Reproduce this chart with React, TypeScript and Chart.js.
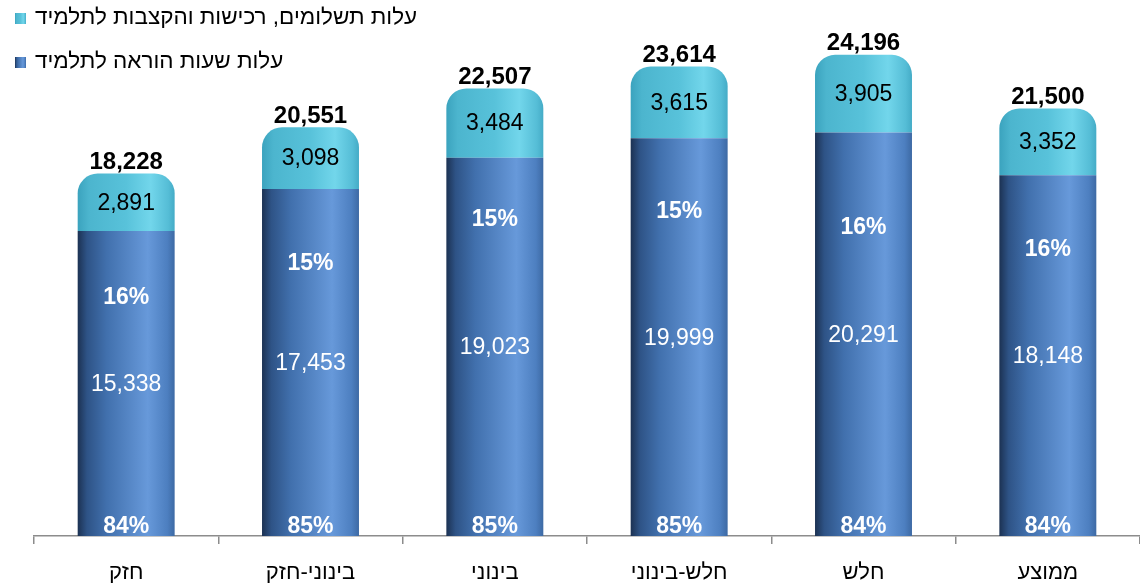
import React, { useEffect, useRef } from "react";
import { Chart, registerables } from "chart.js";

Chart.register(...registerables);

const categories = ["חזק", "בינוני-חזק", "בינוני", "חלש-בינוני", "חלש", "ממוצע"];
const teachingCost = [15338, 17453, 19023, 19999, 20291, 18148];
const paymentsCost = [2891, 3098, 3484, 3615, 3905, 3352];
const totals = [18228, 20551, 22507, 23614, 24196, 21500];
const teachingPct = ["84%", "85%", "85%", "85%", "84%", "84%"];
const paymentsPct = ["16%", "15%", "15%", "15%", "16%", "16%"];
// where Excel placed the upper % label (in data units)
const pctLabelAt = [12000, 13700, 15900, 16300, 15500, 14400];
const legendLabels = ["עלות תשלומים, רכישות והקצבות לתלמיד", "עלות שעות הוראה לתלמיד"];

const FONT = "'Liberation Sans', Arial, sans-serif";
const fmt = (v: number) => v.toLocaleString("en-US");

function barGradient(context: any, stops: [number, string][]) {
  const chart = context.chart;
  const xs = chart.scales?.x;
  if (!xs || !chart.chartArea) return stops[1][1];
  const cx = xs.getPixelForValue(context.dataIndex);
  const half = 49;
  const g = chart.ctx.createLinearGradient(cx - half, 0, cx + half, 0);
  stops.forEach(([o, c]) => g.addColorStop(o, c));
  return g;
}

const darkStops: [number, string][] = [
  [0, "#1b3050"],
  [0.1, "#2e5386"],
  [0.3, "#4170ad"],
  [0.72, "#6799da"],
  [0.92, "#4d7fc0"],
  [1, "#3c68a2"],
];
const cyanStops: [number, string][] = [
  [0, "#3aa2bd"],
  [0.12, "#4cb5ce"],
  [0.5, "#58c2da"],
  [0.75, "#72d6eb"],
  [0.93, "#55bdd6"],
  [1, "#43aac5"],
];

const labelsPlugin = {
  id: "labelsPlugin",
  afterDatasetsDraw(chart: any) {
    const ctx = chart.ctx;
    const m0 = chart.getDatasetMeta(0);
    const m1 = chart.getDatasetMeta(1);
    const ys = chart.scales.y;
    const base = ys.getPixelForValue(0);
    ctx.save();
    ctx.textAlign = "center";
    ctx.textBaseline = "middle";
    categories.forEach((_, i) => {
      const b0 = m0.data[i];
      const b1 = m1.data[i];
      const x = b0.x;
      ctx.fillStyle = "#000";
      ctx.font = `bold 24px ${FONT}`;
      ctx.fillText(fmt(totals[i]), x, b1.y - 11);
      ctx.font = `23px ${FONT}`;
      ctx.fillText(fmt(paymentsCost[i]), x, (b1.y + b1.base) / 2 + 1);
      ctx.fillStyle = "#fff";
      ctx.fillText(fmt(teachingCost[i]), x, (b0.y + b0.base) / 2 + 1);
      ctx.font = `bold 23px ${FONT}`;
      ctx.fillText(paymentsPct[i], x, ys.getPixelForValue(pctLabelAt[i]));
      ctx.fillText(teachingPct[i], x, base - 9);
    });
    ctx.restore();
  },
  afterDraw(chart: any) {
    const ctx = chart.ctx;
    ctx.save();
    const stopsList = [cyanStops, darkStops];
    legendLabels.forEach((t, i) => {
      const y = 18 + i * 44;
      const g = ctx.createLinearGradient(15, 0, 26, 0);
      stopsList[i].forEach(([o, c]) => g.addColorStop(o, c));
      ctx.fillStyle = g;
      ctx.fillRect(15, y - 5, 11, 11);
      ctx.fillStyle = "#000";
      ctx.font = `22.5px ${FONT}`;
      ctx.textBaseline = "middle";
      ctx.direction = "rtl";
      ctx.textAlign = "right";
      const w = ctx.measureText(t).width;
      ctx.fillText(t, 35 + w, y);
    });
    ctx.restore();
  },
};

export default function App() {
  const ref = useRef<HTMLCanvasElement | null>(null);
  useEffect(() => {
    if (!ref.current) return;
    const chart = new Chart(ref.current, {
      type: "bar",
      data: {
        labels: categories,
        datasets: [
          {
            label: legendLabels[1],
            data: teachingCost,
            backgroundColor: (c: any) => barGradient(c, darkStops),
            borderWidth: 0,
            borderRadius: 0,
          },
          {
            label: legendLabels[0],
            data: paymentsCost,
            backgroundColor: (c: any) => barGradient(c, cyanStops),
            borderWidth: 0,
            borderRadius: 20,
          },
        ],
      },
      options: {
        animation: false,
        responsive: false,
        maintainAspectRatio: false,
        layout: { padding: { left: 34, right: 0, top: 19, bottom: 0 } },
        datasets: { bar: { categoryPercentage: 1, barPercentage: 0.526 } },
        plugins: { legend: { display: false }, tooltip: { enabled: false } },
        scales: {
          x: {
            stacked: true,
            afterFit: (s: any) => {
              s.height = 51;
            },
            border: { display: true, color: "#8c8c8c", width: 1.5 },
            grid: {
              offset: true,
              drawOnChartArea: false,
              drawTicks: true,
              tickLength: 8,
              color: "#8c8c8c",
              lineWidth: 1.5,
            },
            ticks: {
              color: "#000",
              padding: 16,
              font: { family: FONT, size: 22 },
            },
          },
          y: {
            stacked: true,
            display: false,
            min: 0,
            max: 26000,
          },
        },
      },
      plugins: [labelsPlugin],
    });
    return () => chart.destroy();
  }, []);
  return (
    <div style={{ position: "fixed", left: 0, top: 0, width: 1140, height: 587, background: "#fff" }}>
      <canvas ref={ref} width={1140} height={587} style={{ width: 1140, height: 587 }} />
    </div>
  );
}
